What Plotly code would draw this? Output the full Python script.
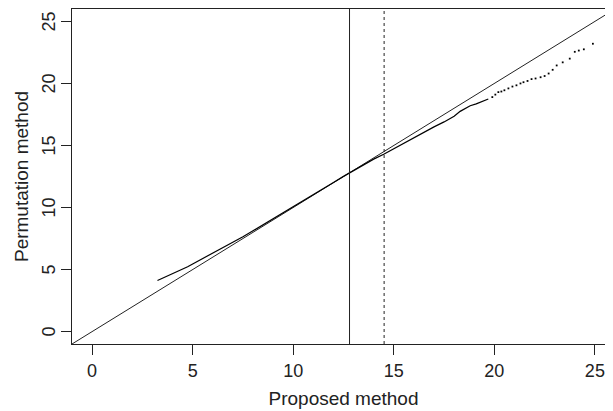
import plotly.graph_objects as go

# Dense part of the point cloud (Proposed vs Permutation)
dense_x = [3.25, 3.5, 3.75, 4.0, 4.25, 4.5, 4.75, 5.0, 5.5, 6.0, 6.5, 7.0, 7.5, 8.0,
           8.5, 9.0, 9.5, 10.0, 10.5, 11.0, 11.5, 12.0, 12.5, 13.0, 13.5, 14.0, 14.5,
           15.0, 15.5, 16.0, 16.5, 17.0, 17.5, 17.8, 18.0, 18.3, 18.5, 18.8, 19.1, 19.4, 19.7]
dense_y = [4.12, 4.3, 4.48, 4.68, 4.85, 5.05, 5.22, 5.45, 5.88, 6.3, 6.75, 7.2, 7.65, 8.12,
           8.6, 9.08, 9.56, 10.05, 10.54, 11.04, 11.52, 12.02, 12.51, 12.99, 13.45, 13.9, 14.3,
           14.75, 15.2, 15.65, 16.05, 16.5, 16.9, 17.15, 17.35, 17.75, 17.95, 18.2, 18.35, 18.55, 18.75]

# Sparse upper tail
tail_x = [19.9, 20.05, 20.2, 20.35, 20.5, 20.7, 20.9, 21.1, 21.3, 21.45, 21.65, 21.85,
          22.05, 22.3, 22.5, 22.7, 22.9, 23.1, 23.4, 23.75, 24.0, 24.2, 24.45, 24.9, 25.6]
tail_y = [18.9, 19.1, 19.3, 19.35, 19.45, 19.6, 19.75, 19.85, 20.0, 20.1, 20.2, 20.35,
          20.4, 20.5, 20.6, 20.8, 21.1, 21.45, 21.7, 22.0, 22.55, 22.65, 22.75, 23.2, 24.15]

ref_x = [-1, 26]
ref_y = [-1, 26]
vline_solid = 12.8
vline_dashed = 14.52
tick_vals = [0, 5, 10, 15, 20, 25]
tick_text = ["0", "5", "10", "15", "20", "25"]

x_title = "Proposed method"
y_title = "Permutation method"

ink = "#222222"
font_family = "Liberation Sans, Arial, sans-serif"

fig = go.Figure()
fig.add_trace(go.Scatter(x=ref_x, y=ref_y, mode="lines",
                         line=dict(color=ink, width=1), hoverinfo="skip"))
fig.add_trace(go.Scatter(x=dense_x, y=dense_y, mode="lines",
                         line=dict(color="black", width=1.2)))
fig.add_trace(go.Scatter(x=tail_x, y=tail_y, mode="markers",
                         marker=dict(color="black", size=1.8, symbol="square", line=dict(width=0))))

fig.add_shape(type="line", xref="x", yref="paper", x0=vline_solid, x1=vline_solid, y0=0, y1=1,
              line=dict(color=ink, width=1))
fig.add_shape(type="line", xref="x", yref="paper", x0=vline_dashed, x1=vline_dashed, y0=0, y1=1,
              line=dict(color=ink, width=1, dash="3px,3px"))

# y tick labels as rotated text placed on the y scale
for v, t in zip(tick_vals, tick_text):
    fig.add_annotation(x=0, xref="paper", y=v, yref="y", text=t, showarrow=False,
                       xanchor="center", yanchor="middle", xshift=-23, textangle=-90,
                       font=dict(size=18, color=ink, family=font_family))

fig.update_layout(
    width=613, height=411,
    margin=dict(l=64, r=6, t=1, b=75, autoexpand=False),
    paper_bgcolor="white", plot_bgcolor="white",
    showlegend=False,
    font=dict(family=font_family, size=18, color=ink),
    xaxis=dict(range=[-1, 26], tickvals=tick_vals, ticktext=tick_text, automargin=False,
               showgrid=False, zeroline=False, showline=True, linecolor=ink, linewidth=1,
               mirror=True, ticks="outside", ticklen=10, tickcolor=ink, tickwidth=1,
               ticklabelstandoff=0,
               title=dict(text=x_title, standoff=12, font=dict(size=19))),
    yaxis=dict(range=[-1, 26], tickvals=tick_vals, showticklabels=False, automargin=False,
               showgrid=False, zeroline=False, showline=True, linecolor=ink, linewidth=1,
               ticks="outside", ticklen=10, tickcolor=ink, tickwidth=1,
               title=dict(text=y_title, standoff=27, font=dict(size=19))),
)

fig.write_html("out.html")
